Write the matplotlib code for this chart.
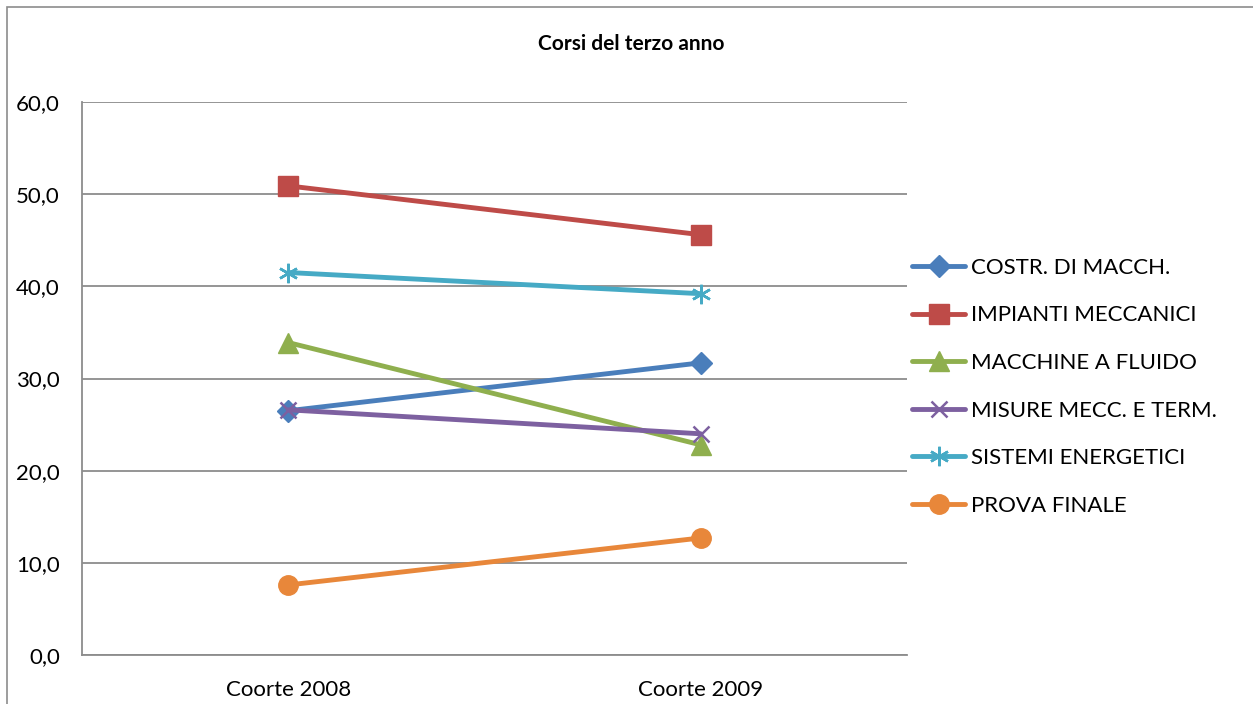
import matplotlib
matplotlib.use("Agg")
import matplotlib.pyplot as plt
from matplotlib.patches import Rectangle
from matplotlib.ticker import FuncFormatter

categories = ["Coorte 2008", "Coorte 2009"]
series_names = ["COSTR. DI MACCH.", "IMPIANTI MECCANICI", "MACCHINE A FLUIDO",
                "MISURE MECC. E TERM.", "SISTEMI ENERGETICI", "PROVA FINALE"]
costr = [26.5, 31.7]
impianti = [50.9, 45.6]
macchine = [33.9, 22.8]
misure = [26.6, 24.0]
sistemi = [41.5, 39.2]
prova = [7.6, 12.7]
yticks = [0, 10, 20, 30, 40, 50, 60]

values = [costr, impianti, macchine, misure, sistemi, prova]
colors = ["#4A7EBB", "#BE4B48", "#8FAF4E", "#7D60A0", "#46AAC5", "#E8873A"]
markers = ["D", "s", "^", "x", "*", "o"]
msizes = [11, 14, 14, 12, 14, 14]

plt.rcParams['font.family'] = ['Lato', 'DejaVu Sans']

fig = plt.figure(figsize=(12.53, 7.04), dpi=100)
fig.patches.append(Rectangle((7/1253, -0.1), 2, (704-7)/704 + 0.1, transform=fig.transFigure,
                             fill=False, edgecolor="#8c8c8c", linewidth=1.2))
ax = fig.add_axes([82/1253, 1-655/704, (907-82)/1253, (655-102)/704])

x = list(range(len(categories)))
for name, v, c, m, ms in zip(series_names, values, colors, markers, msizes):
    if m == "x":
        ax.plot(x, v, color=c, lw=3.5, marker=m, markersize=ms, markeredgewidth=1.8,
                label=name, solid_capstyle="round")
    elif m == "*":
        ax.plot(x, v, color=c, lw=3.5, marker=(6, 2, 0), markersize=ms, markeredgewidth=1.8,
                label=name, solid_capstyle="round")
    else:
        ax.plot(x, v, color=c, lw=3.5, marker=m, markersize=ms, markerfacecolor=c,
                markeredgecolor=c, label=name, solid_capstyle="round")

ax.set_xlim(-0.5, 1.5)
ax.set_ylim(0, 60)
ax.set_yticks(yticks)
ax.yaxis.set_major_formatter(FuncFormatter(lambda v, p: f"{v:.1f}".replace(".", ",")))
ax.set_xticks(x)
ax.set_xticklabels(categories)
ax.grid(axis="y", color="#8c8c8c", linewidth=1.3)
ax.set_axisbelow(True)
for s in ["top", "right"]:
    ax.spines[s].set_visible(False)
for s in ["left", "bottom"]:
    ax.spines[s].set_color("#8c8c8c")
    ax.spines[s].set_linewidth(1.3)
ax.tick_params(axis="both", length=0, labelsize=16)
ax.tick_params(axis="y", pad=16)
ax.tick_params(axis="x", pad=18)

fig.text(631/1253, 1 - 44/704, "Corsi del terzo anno", ha="center", va="center",
         fontsize=15, fontweight="bold")

leg = fig.legend(loc="upper left", bbox_to_anchor=(903/1253, 1 - 249/704), frameon=False,
                 fontsize=16, handlelength=2.4, handletextpad=0.25, labelspacing=1.24,
                 borderaxespad=0)

fig.savefig("out.png", dpi=100)
